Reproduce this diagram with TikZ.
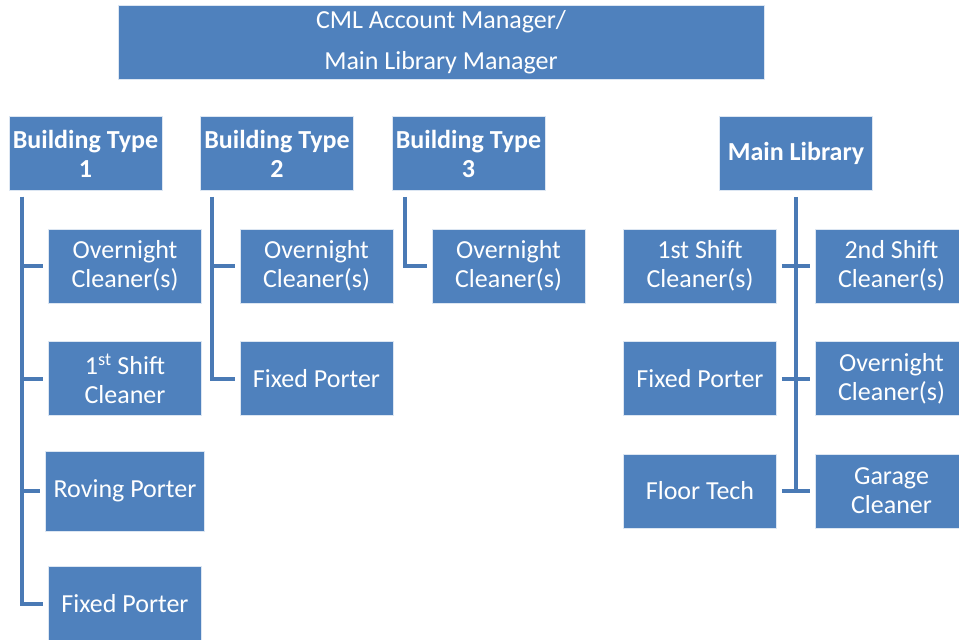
\documentclass[tikz,border=0pt]{standalone}
\usepackage{fontspec}
\setmainfont{Carlito}
\usetikzlibrary{positioning,calc}
\definecolor{Boxblue}{HTML}{4F81BD}
\definecolor{Lineblue}{HTML}{4A7AB5}

\begin{document}
\begin{tikzpicture}
[x=1pt,y=-1pt,
every node/.style={text=white},
block/.style={fill=Boxblue,draw=white!80!Boxblue,line width=.6pt,align=center,
  minimum width=153pt,minimum height=74pt,inner sep=0pt,
  font=\fontsize{26}{29}\selectfont},
head/.style={block,font=\fontsize{26}{29}\selectfont\bfseries},
top/.style={block,minimum width=646pt,font=\fontsize{26}{41}\selectfont},
edge/.style={Lineblue,line width=4pt,shorten >=5pt}]

\useasboundingbox (0,0) rectangle (959,640);

%% manager
\node[top] (mgr) at (441,42) {CML Account Manager/\\Main Library Manager};

%% building types
\node[head] (bt1) at (85.5,153.5) {Building Type\\1};
\node[head] (bt2) at (277,153.5) {Building Type\\2};
\node[head] (bt3) at (468.5,153.5) {Building Type\\3};
\node[head] (ml) at (796,153.5) {Main Library};

%% building type 1
\node[block] (bt1a) at (125,266) {Overnight\\Cleaner(s)};
\node[block] (bt1b) at (125,378.5) {1\textsuperscript{st} Shift\\Cleaner};
\node[block,minimum width=159pt,minimum height=80pt] (bt1c) at (125,491) {Roving Porter};
\node[block] (bt1d) at (125,603.5) {Fixed Porter};
\foreach \c in {bt1a,bt1b,bt1c,bt1d}
  \draw[edge] ([xshift=13pt,yshift=-6pt]bt1.south west) |- (\c.west);

%% building type 2
\node[block] (bt2a) at (316.5,266) {Overnight\\Cleaner(s)};
\node[block] (bt2b) at (316.5,378.5) {Fixed Porter};
\foreach \c in {bt2a,bt2b}
  \draw[edge] ([xshift=12pt,yshift=-6pt]bt2.south west) |- (\c.west);

%% building type 3
\node[block] (bt3a) at (508.5,266) {Overnight\\Cleaner(s)};
\draw[edge] ([xshift=13pt,yshift=-6pt]bt3.south west) |- (bt3a.west);

%% main library
\node[block] (mla) at (700,266) {1st Shift\\Cleaner(s)};
\node[block] (mlb) at (891.5,266) {2nd Shift\\Cleaner(s)};
\node[block] (mlc) at (700,378.5) {Fixed Porter};
\node[block] (mld) at (891.5,378.5) {Overnight\\Cleaner(s)};
\node[block] (mle) at (700,491) {Floor Tech};
\node[block] (mlf) at (891.5,491) {Garage\\Cleaner};
\draw[edge,shorten >=0pt] ([yshift=-6pt]ml.south) -- (ml.south |- mle.east);
\draw[edge,shorten <=5pt] (mla.east) -- (mlb.west);
\draw[edge,shorten <=5pt] (mlc.east) -- (mld.west);
\draw[edge,shorten <=5pt] (mle.east) -- (mlf.west);

\end{tikzpicture}
\end{document}
